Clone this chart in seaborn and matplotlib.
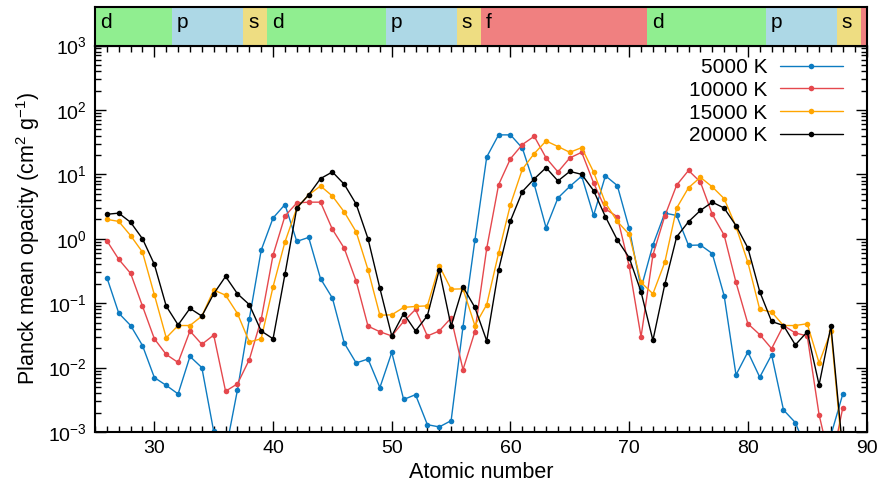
import numpy as np
import pandas as pd
import matplotlib
matplotlib.use("Agg")
import matplotlib.pyplot as plt
import seaborn as sns

# atomic numbers and opacities
atomic_number = list(range(26, 89))

kappa_5000 = [0.25, 0.07, 0.045, 0.022, 0.007, 0.0053, 0.0039, 0.0149, 0.010, 0.00102,
              0.0005, 0.0045, 0.057, 0.665, 2.1, 3.4, 0.91, 1.05, 0.24, 0.12,
              0.024, 0.0118, 0.0136, 0.0049, 0.0172, 0.0032, 0.0038, 0.0013, 0.0012, 0.0015,
              0.043, 0.94, 18.6, 41, 41, 25.6, 7.0, 1.48, 4.3, 6.5,
              9.4, 2.3, 9.5, 6.7, 1.45, 0.17, 0.8, 2.5, 2.3, 0.79,
              0.8, 0.59, 0.131, 0.0077, 0.0175, 0.0071, 0.0158, 0.0022, 0.0014, 0.0005,
              0.0003, 0.0009, 0.0039]
kappa_10000 = [0.93, 0.48, 0.29, 0.09, 0.028, 0.016, 0.012, 0.037, 0.023, 0.032,
               0.0043, 0.0056, 0.0133, 0.056, 0.56, 2.25, 3.6, 3.7, 3.7, 1.4,
               0.71, 0.22, 0.044, 0.036, 0.031, 0.052, 0.08, 0.031, 0.037, 0.059,
               0.0093, 0.036, 0.71, 6.9, 17.5, 29, 39, 18, 10.9, 18,
               22, 7.4, 2.9, 2.2, 0.375, 0.030, 0.56, 2.25, 6.8, 11.5,
               7.6, 2.4, 1.14, 0.21, 0.048, 0.0325, 0.0197, 0.045, 0.0345, 0.031,
               0.00185, 0.0003, 0.0024]
kappa_15000 = [2.0, 1.86, 1.12, 0.62, 0.135, 0.029, 0.045, 0.045, 0.063, 0.16,
               0.133, 0.069, 0.025, 0.028, 0.18, 0.89, 3.0, 4.8, 6.6, 4.6,
               2.6, 1.28, 0.33, 0.065, 0.066, 0.086, 0.089, 0.091, 0.38, 0.165,
               0.167, 0.045, 0.095, 0.6, 3.4, 12, 21, 33, 27, 22,
               26, 10.9, 3.6, 1.86, 1.17, 0.21, 0.14, 0.43, 3.0, 6.2,
               9.0, 6.4, 4.2, 1.54, 0.43, 0.08, 0.073, 0.045, 0.045, 0.048,
               0.0118, 0.037, 0.0004]
kappa_20000 = [2.4, 2.5, 1.8, 1.0, 0.40, 0.09, 0.046, 0.083, 0.063, 0.14,
               0.26, 0.14, 0.095, 0.037, 0.028, 0.28, 3.0, 4.8, 8.6, 10.9,
               7.0, 3.45, 1.0, 0.17, 0.031, 0.069, 0.037, 0.064, 0.33, 0.044,
               0.18, 0.086, 0.026, 0.33, 1.9, 5.4, 8.5, 12.7, 7.9, 11.1,
               10, 5.6, 2.2, 0.96, 0.51, 0.15, 0.0265, 0.195, 1.07, 1.84,
               2.75, 3.7, 3.0, 1.6, 0.72, 0.151, 0.052, 0.045, 0.0225, 0.036,
               0.0054, 0.044, 0.0005]

series_labels = ["5000 K", "10000 K", "15000 K", "20000 K"]
series_colors = ["#0d7bc1", "#e5484d", "#ffa500", "#000000"]

# periodic-table blocks shown in the top strip
block_names = ["d", "p", "s", "d", "p", "s", "f", "d", "p", "s", "f"]
block_edges = [25, 31.5, 37.5, 39.5, 49.5, 55.5, 57.5, 71.5, 81.5, 87.5, 89.5, 90]
block_colors = {"d": "#90ee90", "p": "#add8e6", "s": "#eedd82", "f": "#f08080"}

sns.set_theme(style="ticks")
plt.rcParams["font.family"] = ["Liberation Sans", "DejaVu Sans"]
plt.rcParams["mathtext.default"] = "regular"
plt.rcParams["axes.linewidth"] = 1.5
plt.rcParams["text.color"] = "black"
plt.rcParams["axes.labelcolor"] = "black"
plt.rcParams["xtick.color"] = "black"
plt.rcParams["ytick.color"] = "black"

fig = plt.figure(figsize=(8.83, 4.98), dpi=100)
ax = fig.add_axes([0.1076, 0.1325, 0.8738, 0.7761])
ax_band = fig.add_axes([0.1076, 0.9086, 0.8738, 0.0774])

# block strip
for i, name in enumerate(block_names):
    ax_band.axvspan(block_edges[i], block_edges[i + 1], color=block_colors[name], lw=0)
    if block_edges[i + 1] - block_edges[i] > 1:
        ax_band.text(block_edges[i] + 0.4, 0.45, name, fontsize=15, ha="left",
                     va="baseline", transform=ax_band.get_xaxis_transform())
ax_band.set_xlim(25, 90)
ax_band.set_ylim(0, 1)
ax_band.set_xticks([])
ax_band.set_yticks([])
for s in ax_band.spines.values():
    s.set_visible(True)
    s.set_linewidth(1.5)
    s.set_color("black")

# opacity curves
all_kappa = [kappa_5000, kappa_10000, kappa_15000, kappa_20000]
for label, color, kappa in zip(series_labels, series_colors, all_kappa):
    df = pd.DataFrame({"Z": atomic_number, "kappa": kappa})
    sns.lineplot(data=df, x="Z", y="kappa", ax=ax, color=color, label=label,
                 linewidth=1.0, marker="o", markersize=4, markeredgewidth=0,
                 legend=False)

ax.set_yscale("log")
ax.set_xlim(25, 90)
ax.set_ylim(1e-3, 1e3)
ax.set_xticks([30, 40, 50, 60, 70, 80, 90])
ax.xaxis.set_minor_locator(matplotlib.ticker.MultipleLocator(1))
ax.yaxis.set_major_locator(matplotlib.ticker.LogLocator(base=10, numticks=10))
ax.yaxis.set_minor_locator(matplotlib.ticker.LogLocator(base=10, subs=np.arange(2, 10), numticks=20))
ax.yaxis.set_minor_formatter(matplotlib.ticker.NullFormatter())
ax.tick_params(which="both", direction="in", top=True, right=True, color="black", width=1.0)
ax.tick_params(which="major", length=8, labelsize=14, pad=6)
ax.tick_params(which="minor", length=4)
for s in ax.spines.values():
    s.set_color("black")
    s.set_linewidth(1.5)

ax.set_xlabel("Atomic number", fontsize=15.5, labelpad=3)
ax.set_ylabel("Planck mean opacity (cm$^2$ g$^{-1}$)", fontsize=15.5, labelpad=4)

leg = ax.legend(loc="upper right", markerfirst=False, frameon=False, fontsize=15,
                handlelength=3.0, labelspacing=0.18, handletextpad=0.6,
                borderaxespad=0.2, bbox_to_anchor=(0.985, 1.0))

fig.savefig("out.png", dpi=100)
